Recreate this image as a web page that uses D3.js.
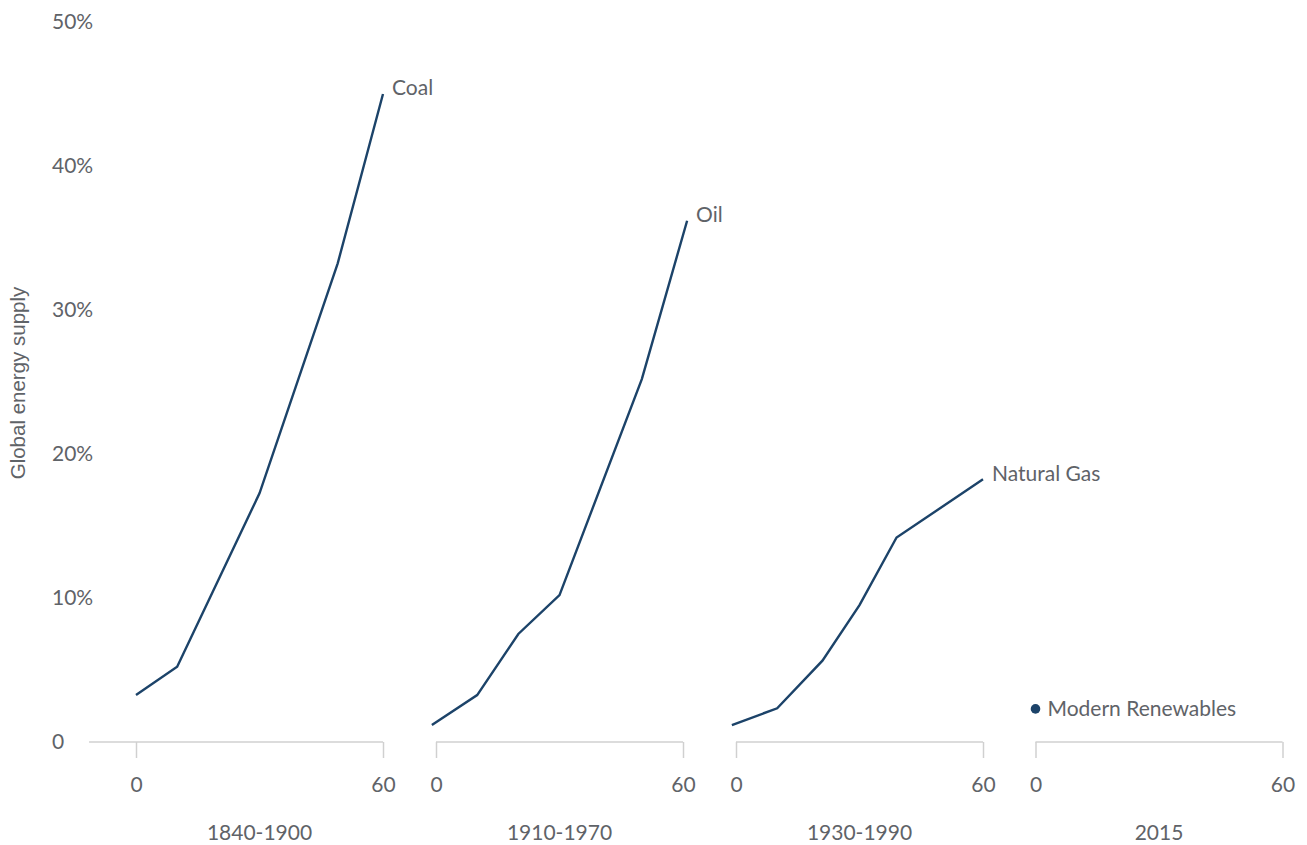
<!DOCTYPE html>
<html>
<head>
<meta charset="utf-8">
<script src="https://cdn.jsdelivr.net/npm/d3@7"></script>
<style>
  html, body { margin: 0; padding: 0; background: #fff; }
  svg { display: block; }
  text { font-family: Lato, "Open Sans", sans-serif; fill: #5f6368; }
</style>
</head>
<body>
<svg id="chart" width="1307" height="845"></svg>
<script>
// ---- data ----
const periods = ["1840-1900", "1910-1970", "1930-1990", "2015"];
const xTicks = [0, 60];
const yTicks = [0, 0.1, 0.2, 0.3, 0.4, 0.5];

const coalYears = [0, 10, 30, 49, 60];
const coalShare = [0.0326, 0.0523, 0.1727, 0.3324, 0.450];

const oilYears = [-1, 10, 20, 30, 50, 61];
const oilShare = [0.0118, 0.0326, 0.075, 0.102, 0.252, 0.362];

const gasYears = [-1, 10, 21, 30, 39, 60];
const gasShare = [0.0118, 0.0234, 0.0565, 0.0951, 0.142, 0.1824];

const renewYears = [0];
const renewShare = [0.0230];

const seriesNames = ["Coal", "Oil", "Natural Gas", "Modern Renewables"];

// ---- layout ----
const svg = d3.select("#chart");
const lineColor = "#1c4369";
const axisColor = "#d0d0d0";
const fs = 21;

const y = d3.scaleLinear().domain([0, 0.5]).range([742, 22]);

const panelStart = [136, 436, 736, 1035.5];
const panelWidth = 247;
const xs = panelStart.map(s => d3.scaleLinear().domain([0, 60]).range([s, s + panelWidth]));

// y axis labels
svg.append("g").selectAll("text")
  .data(yTicks).join("text")
  .attr("x", 52)
  .attr("y", d => y(d))
  .attr("dy", "0.35em")
  .attr("font-size", fs)
  .text(d => d === 0 ? "0" : d3.format(".0%")(d));

// y axis title
svg.append("text")
  .attr("transform", `translate(25,${383}) rotate(-90)`)
  .attr("text-anchor", "middle")
  .attr("font-size", 20.5)
  .style("font-family", "'Liberation Sans', Arial, sans-serif")
  .text("Global energy supply");

// x axes
xs.forEach((x, i) => {
  const g = svg.append("g").attr("transform", `translate(0,${y(0)})`);
  const axis = d3.axisBottom(x).tickValues(xTicks).tickSize(16).tickSizeOuter(0).tickPadding(19)
    .tickFormat(d3.format("d"));
  g.call(axis);
  g.select(".domain").remove();
  g.selectAll(".tick line").attr("stroke", axisColor).attr("stroke-width", 1.5);
  g.selectAll(".tick text")
    .attr("font-size", fs)
    .style("font-family", "Lato, sans-serif")
    .attr("fill", "#5f6368");
  const x0 = i === 0 ? x(-11.4) : x(0);
  g.append("line")
    .attr("x1", x0).attr("x2", x(60))
    .attr("y1", 0).attr("y2", 0)
    .attr("stroke", axisColor).attr("stroke-width", 1.5);
  g.append("text")
    .attr("x", x(30))
    .attr("y", 98)
    .attr("text-anchor", "middle")
    .attr("font-size", fs)
    .text(periods[i]);
});

// lines
const lineGen = (x) => d3.line().x(d => x(d[0])).y(d => y(d[1]));
const series = [
  { name: seriesNames[0], x: xs[0], data: d3.zip(coalYears, coalShare) },
  { name: seriesNames[1], x: xs[1], data: d3.zip(oilYears, oilShare) },
  { name: seriesNames[2], x: xs[2], data: d3.zip(gasYears, gasShare) }
];

series.forEach(s => {
  svg.append("path")
    .datum(s.data)
    .attr("fill", "none")
    .attr("stroke", lineColor)
    .attr("stroke-width", 2.4)
    .attr("d", lineGen(s.x));
  const last = s.data[s.data.length - 1];
  svg.append("text")
    .attr("x", s.x(last[0]) + 9)
    .attr("y", y(last[1]) - 6)
    .attr("dy", "0.35em")
    .attr("font-size", fs)
    .text(s.name);
});

// renewables point
svg.append("circle")
  .attr("cx", xs[3](renewYears[0]))
  .attr("cy", y(renewShare[0]))
  .attr("r", 4.8)
  .attr("fill", lineColor);
svg.append("text")
  .attr("x", xs[3](renewYears[0]) + 12)
  .attr("y", y(renewShare[0]))
  .attr("dy", "0.35em")
  .attr("font-size", fs)
  .text(seriesNames[3]);
</script>
</body>
</html>
